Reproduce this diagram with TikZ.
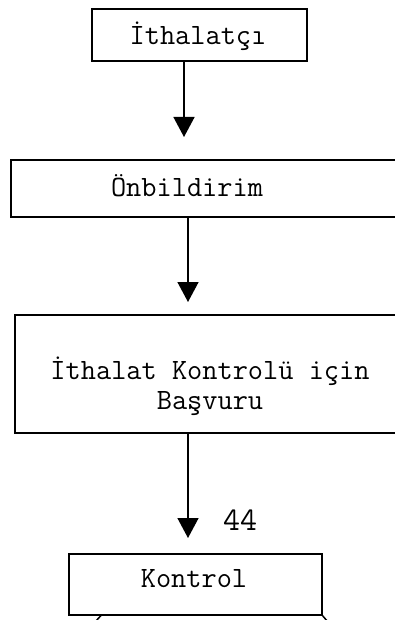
\documentclass[tikz,border=0pt]{standalone}
\usepackage{fontspec}
\usetikzlibrary{arrows.meta}
\tikzset{
  x=1pt,y=-1pt,
  boxnode/.style={draw,line width=1.5pt,rectangle,inner sep=0pt},
  txt/.style={inner sep=0pt,font=\ttfamily\fontsize{29.5}{29.5}\selectfont,align=center},
  arr/.style={line width=1.5pt,-{Triangle[width=21pt,length=20pt]}},
  edge/.style={line width=1.5pt}
}
\begin{document}
\begin{tikzpicture}
\useasboundingbox (0,0) rectangle (395,620);
\clip (0,0) rectangle (395,620);
% boxes
\node[boxnode,minimum width=215pt,minimum height=52pt] (b1) at (199.5,35) {};
\node[txt] (t1) at (198,36) {İthalatçı};
\node[boxnode,minimum width=400pt,minimum height=57pt] (b2) at (211,188.5) {};
\node[txt] (t2) at (187,186) {Önbildirim};
\node[boxnode,minimum width=400pt,minimum height=118pt] (b3) at (215,374) {};
\node[txt] (t3) at (210,386) {İthalat Kontrolü için\\Başvuru};
\node[boxnode,minimum width=253pt,minimum height=61pt] (b4) at (195.5,584.5) {};
\node[txt] (t4) at (194,579) {Kontrol};
\node[inner sep=0pt,font=\ttfamily\fontsize{33}{35}\selectfont] (l44) at (240,520) {44};
% arrows
\coordinate (a1s) at (184,61);  \coordinate (a1e) at (184,137);
\coordinate (a2s) at (188,217); \coordinate (a2e) at (188,302);
\coordinate (a3s) at (188,433); \coordinate (a3e) at (188,538);
\draw[arr] (a1s) -- (a1e);
\draw[arr] (a2s) -- (a2e);
\draw[arr] (a3s) -- (a3e);
% outgoing lines at the bottom
\coordinate (d1s) at (101.5,615); \coordinate (d1e) at (95,622);
\coordinate (d2s) at (322,615); \coordinate (d2e) at (328,622);
\draw[edge] (d1s) -- (d1e);
\draw[edge] (d2s) -- (d2e);
\end{tikzpicture}
\end{document}
